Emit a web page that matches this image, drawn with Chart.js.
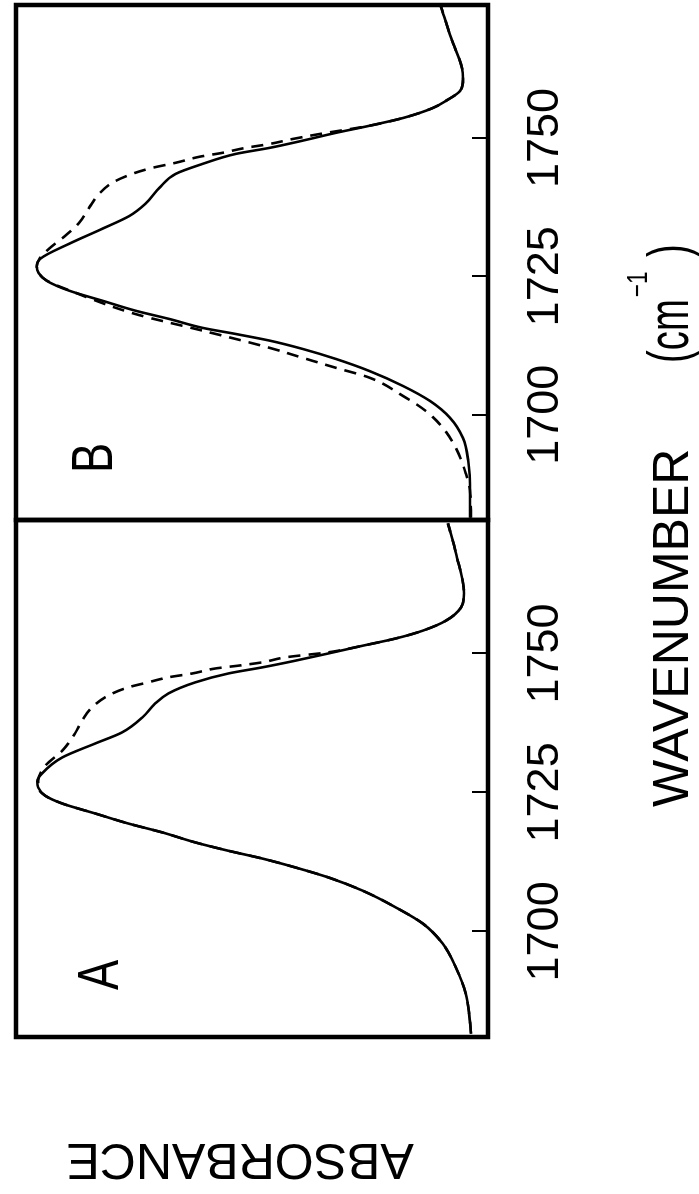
<!DOCTYPE html>
<html>
<head>
<meta charset="utf-8">
<script src="https://cdn.jsdelivr.net/npm/chart.js@4.4.1/dist/chart.umd.min.js"></script>
<style>
    html, body { margin: 0; padding: 0; background: #fff; overflow: hidden; }
    /* the figure is laid out landscape and turned a quarter to fit the page */
    #page { position: absolute; left: 0; top: 0; width: 1194px; height: 699px;
            transform-origin: 0 0; transform: translate(0px, 1194px) rotate(-90deg); }
    #page canvas { position: absolute; left: 0; top: 0; }
</style>
</head>
<body>
<div id="page">
    <canvas id="chart-a" width="1194" height="699"></canvas>
    <canvas id="chart-b" width="1194" height="699"></canvas>
</div>
<script>
const wnMin = 1681;
const wnMax = 1774;
const tickValues = [1700, 1725, 1750];
const panelNames = ['A', 'B'];
const xTitle = 'WAVENUMBER';
const xUnit = '(cm';
const xUnitSup = '\u22121';
const yTitle = 'ABSORBANCE';

// panel A
const aSolidWn = [1681.6, 1685.2, 1688.8, 1693.5, 1697.8, 1701.4, 1704.3, 1707.3, 1709.7, 1711.5,
    1713.1, 1714.5, 1716.0, 1717.8, 1719.4, 1721.2, 1723.0, 1724.4, 1725.9, 1727.0,
    1728.4, 1731.3, 1733.8, 1735.8, 1738.5, 1741.0, 1742.8, 1744.8, 1746.4, 1747.5,
    1748.7, 1750.0, 1751.4, 1752.7, 1754.1, 1755.9, 1758.3, 1760.8, 1768.0, 1773.4];
const aSolidAbs = [0.036, 0.040, 0.047, 0.068, 0.096, 0.138, 0.195, 0.265, 0.338, 0.408,
    0.478, 0.550, 0.620, 0.690, 0.762, 0.832, 0.902, 0.938, 0.953, 0.955,
    0.945, 0.902, 0.832, 0.775, 0.732, 0.705, 0.677, 0.620, 0.550, 0.478,
    0.408, 0.338, 0.265, 0.195, 0.138, 0.089, 0.057, 0.051, 0.068, 0.085];
const aDashWn = [1681.6, 1685.2, 1688.8, 1693.5, 1697.8, 1701.4, 1704.3, 1707.3, 1709.7, 1711.5,
    1713.1, 1714.5, 1716.0, 1717.8, 1719.4, 1721.2, 1723.0, 1724.4, 1725.9, 1727.1,
    1729.8, 1732.5, 1735.6, 1737.9, 1740.3, 1742.4, 1743.9, 1744.8, 1745.7, 1746.4,
    1747.3, 1747.8, 1748.4, 1749.3, 1750.2, 1751.4, 1752.7, 1754.1, 1755.9, 1758.3,
    1760.8, 1768.0, 1773.4];
const aDashAbs = [0.036, 0.040, 0.047, 0.068, 0.096, 0.138, 0.195, 0.265, 0.338, 0.408,
    0.478, 0.550, 0.620, 0.690, 0.762, 0.832, 0.902, 0.938, 0.953, 0.953,
    0.938, 0.902, 0.875, 0.860, 0.839, 0.805, 0.762, 0.720, 0.677, 0.626,
    0.577, 0.529, 0.478, 0.429, 0.338, 0.265, 0.195, 0.138, 0.089, 0.057,
    0.051, 0.068, 0.085];

// panel B
const bSolidWn = [1681.4, 1685.7, 1691.7, 1695.8, 1699.5, 1702.5, 1705.2, 1707.9, 1710.1, 1711.9,
    1713.4, 1714.6, 1715.7, 1717.3, 1718.8, 1720.6, 1722.4, 1724.2, 1725.6, 1726.8,
    1728.2, 1730.9, 1733.6, 1735.9, 1738.1, 1741.0, 1743.5, 1745.3, 1747.1, 1748.2,
    1749.5, 1750.9, 1752.2, 1753.6, 1755.4, 1756.7, 1758.5, 1760.6, 1762.6, 1768.0, 1773.8];
const bSolidAbs = [0.038, 0.038, 0.042, 0.053, 0.081, 0.123, 0.180, 0.251, 0.323, 0.393,
    0.463, 0.535, 0.605, 0.675, 0.747, 0.817, 0.887, 0.935, 0.952, 0.956,
    0.948, 0.887, 0.817, 0.760, 0.726, 0.696, 0.662, 0.605, 0.535, 0.463,
    0.393, 0.323, 0.251, 0.180, 0.117, 0.089, 0.059, 0.053, 0.055, 0.078, 0.100];
const bDashWn = [1681.4, 1686.3, 1689.4, 1694.0, 1697.7, 1700.7, 1703.4, 1706.7, 1708.5, 1710.3,
    1712.1, 1715.2, 1718.2, 1722.4, 1724.2, 1725.6, 1726.8, 1728.2, 1730.0, 1732.3,
    1734.7, 1737.4, 1739.9, 1741.9, 1743.5, 1744.6, 1745.5, 1746.6, 1747.3, 1748.2,
    1748.9, 1749.8, 1750.7, 1752.2, 1753.6, 1755.4, 1756.7, 1758.5, 1760.6, 1762.6,
    1768.0, 1773.8];
const bDashAbs = [0.036, 0.038, 0.047, 0.068, 0.096, 0.132, 0.180, 0.251, 0.323, 0.393,
    0.463, 0.605, 0.747, 0.885, 0.934, 0.952, 0.956, 0.950, 0.930, 0.896,
    0.866, 0.845, 0.824, 0.796, 0.754, 0.711, 0.662, 0.611, 0.563, 0.514,
    0.463, 0.414, 0.357, 0.251, 0.180, 0.117, 0.089, 0.059, 0.053, 0.055,
    0.078, 0.100];

const fontFamily = '"Liberation Sans", Arial, sans-serif';

function toPoints(xs, ys) {
    return xs.map((x, i) => ({ x: x, y: ys[i] }));
}

// the original lettering is condensed, so squeeze text sideways
function narrowText(ctx, text, x, y, size, squeeze, align) {
    ctx.save();
    ctx.translate(x, y);
    ctx.scale(squeeze, 1);
    ctx.font = size + 'px ' + fontFamily;
    ctx.textAlign = align;
    ctx.textBaseline = 'alphabetic';
    ctx.fillText(text, 0, 0);
    const w = ctx.measureText(text).width * squeeze;
    ctx.restore();
    return w;
}

const framePlugin = {
    id: 'frame',
    afterDatasetsDraw(chart) {
        const { ctx, chartArea } = chart;
        ctx.save();
        ctx.strokeStyle = '#000';
        ctx.lineWidth = 4.5;
        ctx.strokeRect(chartArea.left, chartArea.top, chartArea.right - chartArea.left, chartArea.bottom - chartArea.top);
        ctx.restore();
    }
};

const panelLabelPlugin = {
    id: 'panelLabel',
    afterDraw(chart, args, opts) {
        const { ctx, chartArea } = chart;
        ctx.fillStyle = '#000';
        narrowText(ctx, opts.text, chartArea.left + 62, chartArea.top + opts.baseline, 58, 0.78, 'center');
    }
};

// both titles sit outside panel A's box; the x one spans both panels
const titlesPlugin = {
    id: 'titles',
    afterDraw(chart) {
        const ctx = chart.ctx;
        const base = 688;
        ctx.save();
        ctx.fillStyle = '#000';
        ctx.textBaseline = 'alphabetic';
        ctx.textAlign = 'left';
        ctx.font = '50px ' + fontFamily;
        ctx.fillText(xTitle, 387, base);
        let x = 831;
        x += narrowText(ctx, xUnit, x, base, 58, 0.66, 'left');
        narrowText(ctx, xUnitSup, x + 2, base - 41, 30, 0.75, 'left');
        narrowText(ctx, ')', 937, base, 58, 0.66, 'left');

        ctx.translate(36, 240);
        ctx.rotate(-Math.PI / 2);
        ctx.textAlign = 'center';
        ctx.textBaseline = 'middle';
        ctx.font = '50px ' + fontFamily;
        ctx.fillText(yTitle, 0, 0);
        ctx.restore();
    }
};

function makeChart(canvasId, solid, dashed, name, isFirst) {
    const ctx = document.getElementById(canvasId).getContext('2d');
    return new Chart(ctx, {
        type: 'line',
        data: {
            datasets: [{
                label: 'solid',
                data: solid,
                borderColor: '#000',
                borderWidth: 2.6,
                pointRadius: 0,
                fill: false,
                cubicInterpolationMode: 'monotone'
            }, {
                label: 'dashed',
                data: dashed,
                borderColor: '#000',
                borderWidth: 2.6,
                borderDash: [12, 8],
                pointRadius: 0,
                fill: false,
                cubicInterpolationMode: 'monotone'
            }]
        },
        options: {
            responsive: false,
            animation: false,
            layout: {
                padding: isFirst
                    ? { left: 157, right: 520, top: 16, bottom: 79 }
                    : { left: 674, right: 5, top: 16, bottom: 79 }
            },
            plugins: {
                legend: { display: false },
                tooltip: { enabled: false },
                panelLabel: { text: name, baseline: isFirst ? 102 : 96 }
            },
            scales: {
                x: {
                    type: 'linear',
                    min: wnMin,
                    max: wnMax,
                    afterBuildTicks: scale => { scale.ticks = tickValues.map(v => ({ value: v })); },
                    ticks: {
                        color: '#000',
                        font: { family: fontFamily, size: 45 },
                        padding: 47,
                        maxRotation: 0,
                        minRotation: 0,
                        autoSkip: false,
                        callback: v => String(v)
                    },
                    grid: {
                        display: true,
                        drawOnChartArea: false,
                        drawTicks: true,
                        tickLength: -16,
                        color: '#000',
                        lineWidth: 2
                    },
                    border: { display: false }
                },
                y: {
                    display: false,
                    min: 0,
                    max: 1
                }
            }
        },
        plugins: isFirst ? [framePlugin, panelLabelPlugin, titlesPlugin] : [framePlugin, panelLabelPlugin]
    });
}

makeChart('chart-a', toPoints(aSolidWn, aSolidAbs), toPoints(aDashWn, aDashAbs), panelNames[0], true);
makeChart('chart-b', toPoints(bSolidWn, bSolidAbs), toPoints(bDashWn, bDashAbs), panelNames[1], false);
</script>
</body>
</html>
